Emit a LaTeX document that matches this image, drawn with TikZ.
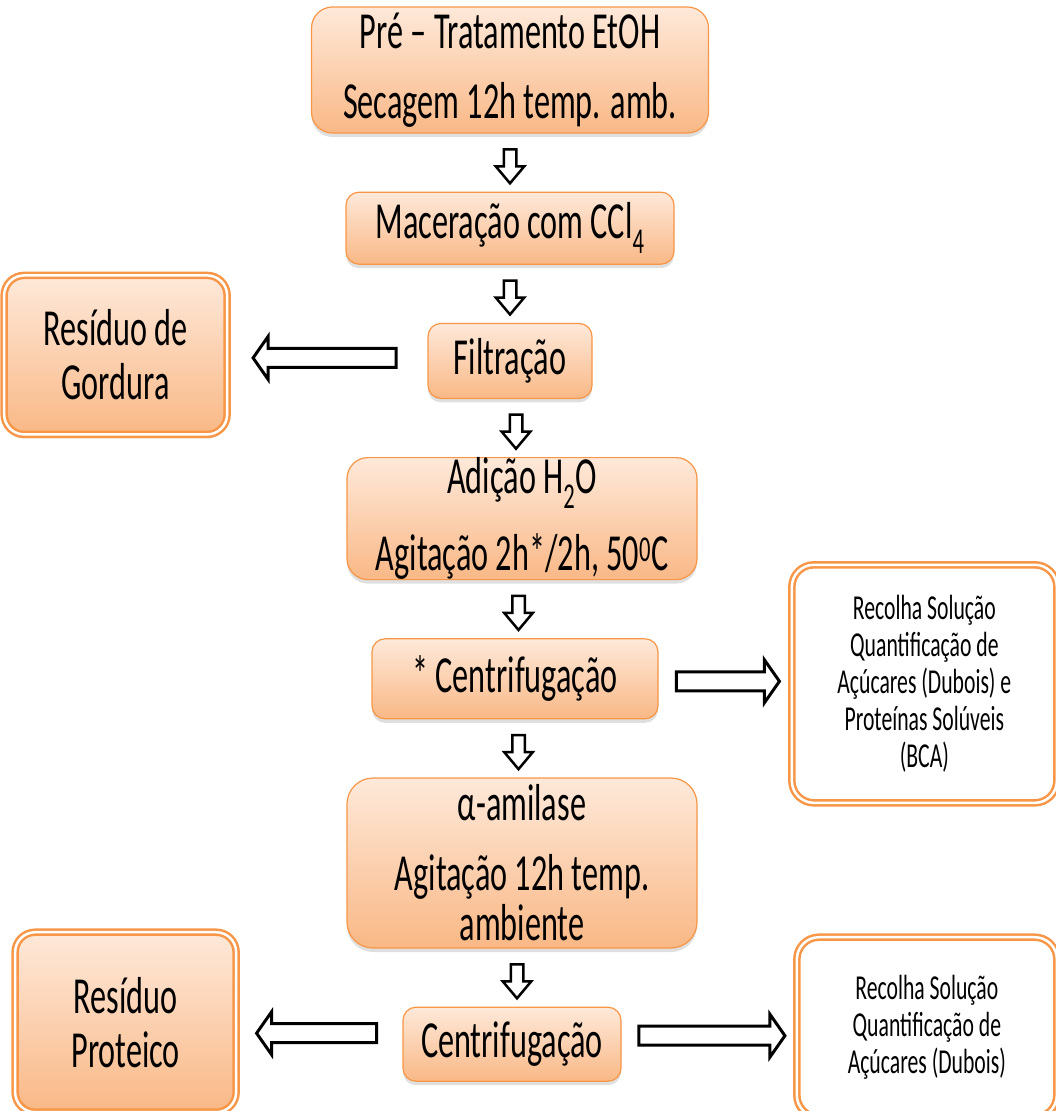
\documentclass[tikz,border=0pt]{standalone}
\usepackage{fontspec}
\setmainfont{Carlito}[FakeStretch=0.62]
\usepackage{tikz}
\usetikzlibrary{positioning,shapes.arrows,shadows}
\definecolor{procorange}{HTML}{F79646}
\definecolor{proctop}{HTML}{FEE9DA}
\definecolor{procbottom}{HTML}{F9B886}

\begin{document}
\begin{tikzpicture}[
  node distance=58pt,
  basebox/.style={rectangle, draw=procorange, align=center, inner sep=0pt},
  procbox/.style={basebox, line width=1.2pt, top color=proctop, bottom color=procbottom,
               rounded corners=13pt, font=\fontsize{52}{46}\selectfont,
               drop shadow={shadow xshift=0pt, shadow yshift=-4pt, opacity=0.25}},
  wastebox/.style={procbox, double=white, double distance=2.5pt, line width=2.5pt,
               rounded corners=20pt, font=\fontsize{52}{54}\selectfont},
  collectbox/.style={basebox, fill=white, double=white, double distance=2.5pt, line width=2.5pt,
               rounded corners=22pt, font=\fontsize{35}{37}\selectfont},
  downarrow/.style={single arrow, draw=black, fill=white, line width=2.5pt, inner sep=5pt,
               single arrow head extend=8pt, single arrow tip angle=80,
               minimum height=34pt, shape border rotate=270},
  sidearrow/.style={single arrow, draw=black, fill=white, line width=3pt, inner sep=8pt,
               single arrow head extend=12pt, single arrow tip angle=110},
]
\useasboundingbox (0,0) rectangle (1055pt,-1111pt);

% main column
\node[procbox, minimum width=397pt, minimum height=126pt, rounded corners=21pt] (pretrat) at (510pt,-70pt)
  {Pré – Tratamento EtOH\\[24pt]Secagem 12h temp. amb.};
\node[procbox, minimum width=328pt, minimum height=72pt, below=of pretrat] (macer)
  {Maceração com CCl\textsubscript{4}};
\node[procbox, minimum width=164pt, minimum height=75pt, below=of macer] (filtr) {Filtração};
\node[procbox, minimum width=350pt, minimum height=122pt, rounded corners=21pt, below=of filtr, xshift=12pt] (adicao)
  {Adição H\textsubscript{2}O\\[24pt]Agitação 2h*/2h, 50\textsuperscript{0}C};
\node[procbox, minimum width=286pt, minimum height=80pt, below=of adicao, xshift=-7pt] (centrA) {* Centrifugação};
\node[procbox, minimum width=350pt, minimum height=170pt, rounded corners=26pt, below=of centrA, xshift=7pt,
      font=\fontsize{52}{50}\selectfont] (amilase)
  {α-amilase\\[20pt]Agitação 12h temp.\\ambiente};
\node[procbox, minimum width=218pt, minimum height=74pt, below=of amilase, xshift=-10pt] (centrB) {Centrifugação};

% residues on the left
\node[wastebox, minimum width=223pt, minimum height=159pt, left=199pt of filtr, yshift=6pt] (gordura)
  {Resíduo de\\Gordura};
\node[wastebox, minimum width=221pt, minimum height=180pt, left=165pt of centrB, yshift=22pt] (proteico)
  {Resíduo\\Proteico};

% collected solutions on the right
\node[collectbox, minimum width=265pt, minimum height=238pt, right=132pt of centrA, yshift=-5pt] (recolhaA)
  {Recolha Solução\\Quantificação de\\Açúcares (Dubois) e\\Proteínas Solúveis\\(BCA)};
\node[collectbox, minimum width=260pt, minimum height=180pt, right=174pt of centrB, yshift=17pt] (recolhaB)
  {Recolha Solução\\Quantificação de\\Açúcares (Dubois)};

\foreach \a/\b in {pretrat/macer, macer/filtr, filtr/adicao, adicao/centrA, centrA/amilase, amilase/centrB}
  \path (\a.south) -- node[downarrow] {} (\b.north);

\path (filtr.west) -- node[sidearrow, minimum height=143pt, shape border rotate=180] {} (gordura.east);
\path (centrA.east) -- node[sidearrow, minimum height=103pt] {} (recolhaA.west);
\path (centrB.west) -- node[sidearrow, minimum height=120pt, shape border rotate=180] {} (proteico.east);
\path (centrB.east) -- node[sidearrow, minimum height=146pt] {} (recolhaB.west);

\end{tikzpicture}
\end{document}
